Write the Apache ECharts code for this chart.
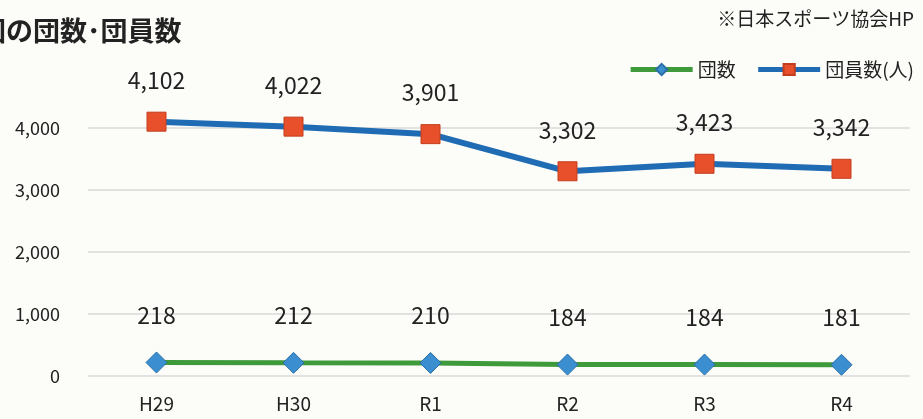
<!DOCTYPE html>
<html>
<head>
<meta charset="utf-8">
<script src="https://cdn.jsdelivr.net/npm/echarts@6/dist/echarts.min.js"></script>
<style>
html,body{margin:0;padding:0;background:#fcfcf9;}
#chart{width:923px;height:419px;}
</style>
</head>
<body>
<div id="chart"></div>
<script>
var years = ['H29', 'H30', 'R1', 'R2', 'R3', 'R4'];
var danSu = [218, 212, 210, 184, 184, 181];
var danInSu = [4102, 4022, 3901, 3302, 3423, 3342];
var seriesNames = ['団数', '団員数(人)'];

var font = '"Noto Sans CJK JP", "Noto Sans", sans-serif';

var myChart = echarts.init(document.getElementById('chart'));
var option = {
    backgroundColor: '#fcfcf9',
    textStyle: {fontFamily: font},
    title: [
        {
            text: 'スポーツ少年団の団数･団員数',
            left: -188,
            top: 12,
            textStyle: {fontSize: 27, fontWeight: 'bold', color: '#222', fontFamily: font}
        },
        {
            text: '※日本スポーツ協会HP',
            right: 4,
            top: 4,
            textStyle: {fontSize: 19, fontWeight: 'normal', color: '#222', fontFamily: font}
        }
    ],
    legend: {
        right: 4,
        top: 55,
        itemWidth: 62,
        itemHeight: 14,
        itemGap: 20,
        lineStyle: {width: 5},
        textStyle: {fontSize: 19, color: '#222'},
        data: seriesNames
    },
    grid: {
        left: 88,
        right: 13,
        top: 66,
        bottom: 43
    },
    xAxis: {
        type: 'category',
        data: years,
        axisLine: {show: false},
        axisTick: {show: false},
        axisLabel: {fontSize: 19, color: '#222', margin: 18}
    },
    yAxis: {
        type: 'value',
        min: 0,
        max: 5000,
        interval: 1000,
        axisLabel: {
            fontSize: 18,
            color: '#222',
            margin: 28,
            showMaxLabel: false,
            formatter: function (v) { return v.toLocaleString('en-US'); }
        },
        splitLine: {show: true, showMaxLine: false, lineStyle: {color: '#e2e2e2', width: 2}}
    },
    series: [
        {
            name: seriesNames[0],
            type: 'line',
            data: danSu,
            symbol: 'diamond',
            symbolSize: 21,
            lineStyle: {color: '#3f9a3c', width: 5},
            itemStyle: {color: '#3b8fd1', borderColor: '#2a6fa8', borderWidth: 1},
            label: {
                show: true,
                position: 'top',
                distance: 25,
                fontSize: 23,
                color: '#222'
            },
            z: 3
        },
        {
            name: seriesNames[1],
            type: 'line',
            data: danInSu,
            symbol: 'rect',
            symbolSize: 19,
            lineStyle: {color: '#1f6cb5', width: 6},
            itemStyle: {color: '#e8502c', borderColor: '#c33e1e', borderWidth: 1},
            label: {
                show: true,
                position: 'top',
                distance: 20,
                fontSize: 23,
                color: '#222',
                formatter: function (p) { return p.value.toLocaleString('en-US'); }
            },
            z: 3
        }
    ]
};
myChart.setOption(option);
</script>
</body>
</html>
